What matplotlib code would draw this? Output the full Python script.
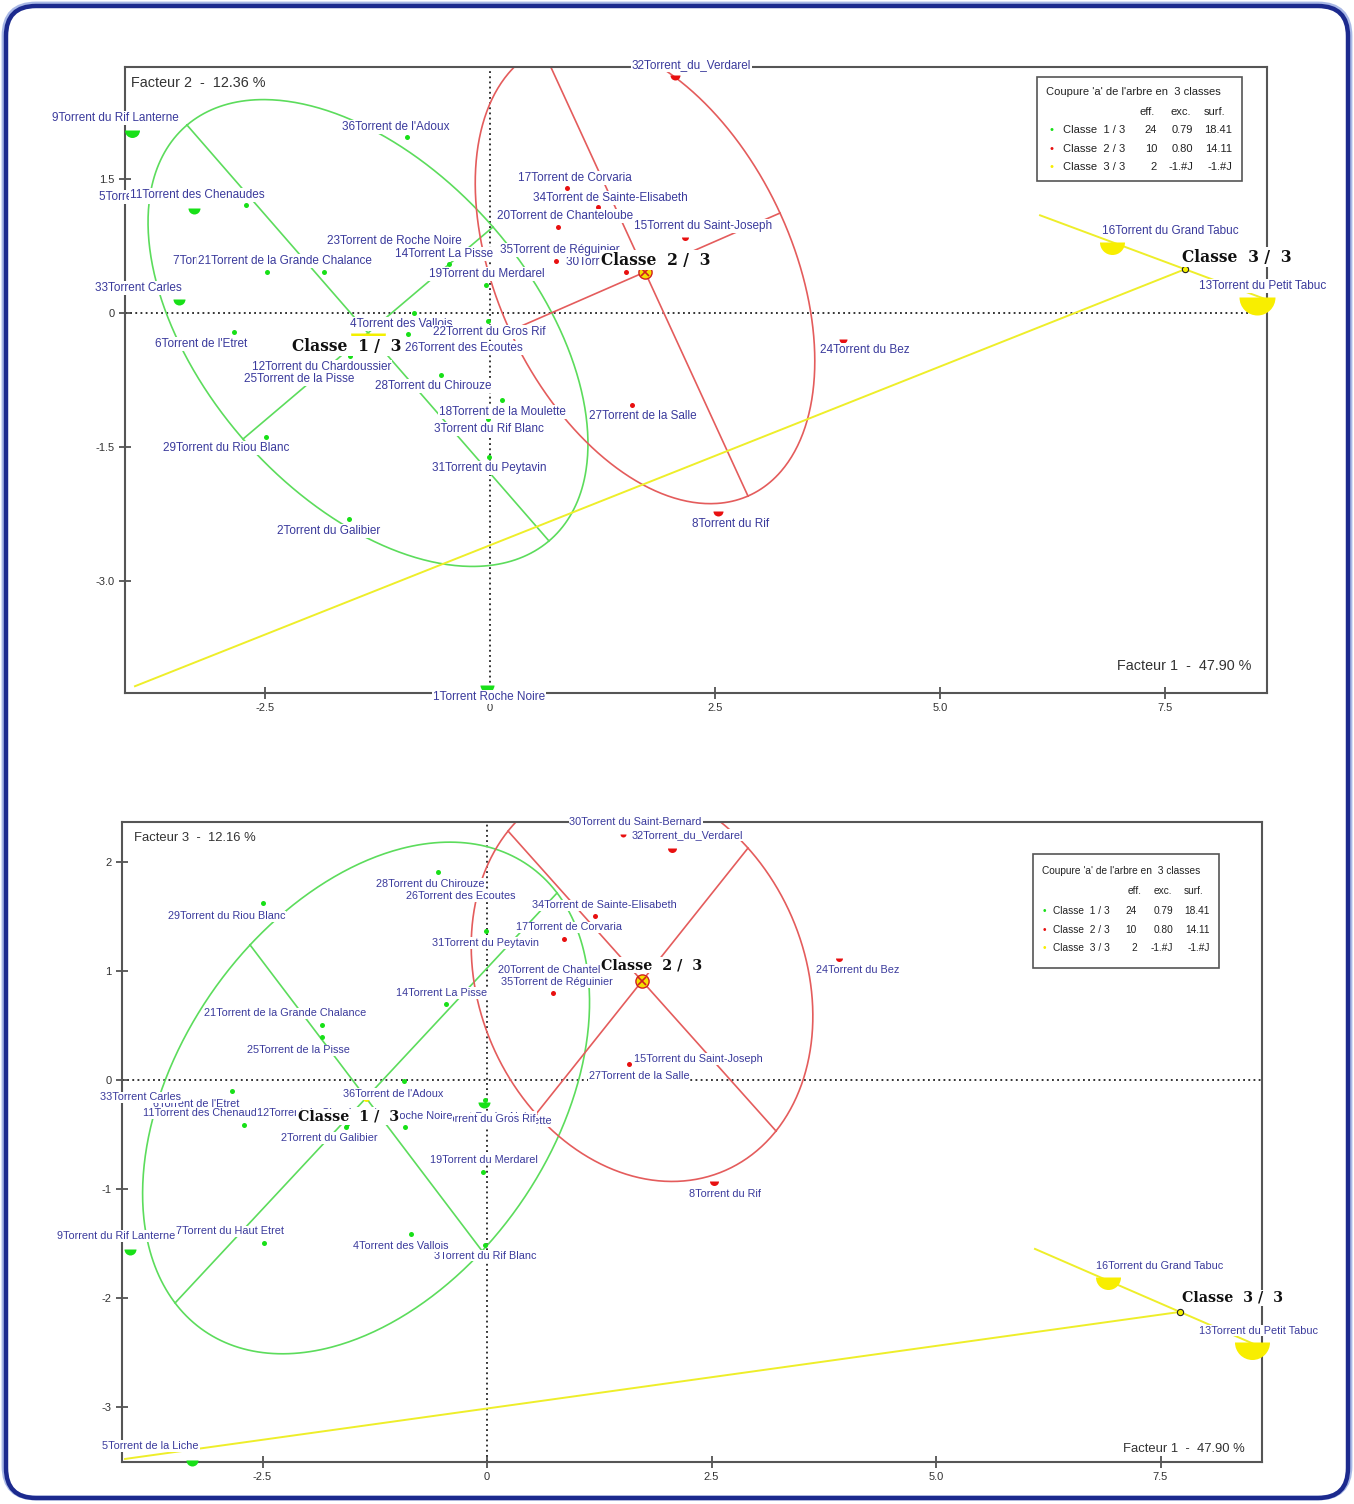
import matplotlib
matplotlib.use("Agg")
import matplotlib.pyplot as plt
import numpy as np
from matplotlib import font_manager, transforms
from matplotlib.patches import FancyBboxPatch, Rectangle

# Classification des torrents : plans factoriels F1-F2 et F1-F3 (coupure en 3 classes)

W, H = 1354, 1504

numeros = [1, 2, 3, 4, 5, 6, 7, 8, 9, 11, 12, 13, 14, 15, 16, 17, 18, 19,
           20, 21, 22, 23, 24, 25, 26, 27, 28, 29, 30, 31, 32, 33, 34, 35, 36]
noms = ["Torrent Roche Noire", "Torrent du Galibier", "Torrent du Rif Blanc",
        "Torrent des Vallois", "Torrent de la Liche", "Torrent de l'Etret",
        "Torrent du Haut Etret", "Torrent du Rif", "Torrent du Rif Lanterne",
        "Torrent des Chenaudes", "Torrent du Chardoussier", "Torrent du Petit Tabuc",
        "Torrent La Pisse", "Torrent du Saint-Joseph", "Torrent du Grand Tabuc",
        "Torrent de Corvaria", "Torrent de la Moulette", "Torrent du Merdarel",
        "Torrent de Chanteloube", "Torrent de la Grande Chalance", "Torrent du Gros Rif",
        "Torrent de Roche Noire", "Torrent du Bez", "Torrent de la Pisse",
        "Torrent des Ecoutes", "Torrent de la Salle", "Torrent du Chirouze",
        "Torrent du Riou Blanc", "Torrent du Saint-Bernard", "Torrent du Peytavin",
        "Torrent_du_Verdarel", "Torrent Carles", "Torrent de Sainte-Elisabeth",
        "Torrent de Réguinier", "Torrent de l'Adoux"]
classe = [1, 1, 1, 1, 1, 1, 1, 2, 1, 1, 1, 3, 1, 2, 3, 2, 1, 1,
          2, 1, 1, 1, 2, 1, 1, 2, 1, 1, 2, 1, 2, 1, 2, 2, 1]
f1 = [-0.03, -1.57, -0.02, -0.85, -3.29, -2.84, -2.48, 2.53, -3.98, -2.71, -1.56, 8.52,
      -0.46, 2.17, 6.91, 0.86, 0.13, -0.05, 0.76, -1.84, -0.02, -0.91, 3.92, -1.84,
      -0.91, 1.58, -0.55, -2.49, 1.51, -0.01, 2.06, -3.46, 1.20, 0.73, -0.92]
f2 = [-4.16, -2.31, -1.19, 0.00, 1.18, -0.21, 0.46, -2.22, 2.05, 1.21, -0.48, 0.18,
      0.55, 0.85, 0.80, 1.40, -0.97, 0.31, 0.96, 0.46, -0.09, 0.68, -0.29, -0.62,
      -0.24, -1.03, -0.69, -1.39, 0.46, -1.61, 2.66, 0.16, 1.19, 0.58, 1.97]
f3 = [-0.20, -0.43, -1.51, -1.41, -3.49, -0.10, -1.50, -0.93, -1.55, -0.41, -0.40, -2.40,
      0.70, 0.19, -1.81, 1.29, -0.33, -0.84, 0.96, 0.50, -0.18, -0.43, 1.12, 0.39,
      1.79, 0.15, 1.91, 1.62, 2.26, 1.37, 2.13, -0.16, 1.50, 0.80, -0.01]

# centres des classes et demi-axes des ellipses
centres_f12 = [(-1.356, -0.224), (1.722, 0.459), (7.722, 0.490)]
centres_f13 = [(-1.347, -0.165), (1.726, 0.908), (7.717, -2.128)]
axes_f12 = {1: ((-2.011, 2.328), (1.389, 1.187)), 2: ((1.144, -2.508), (1.500, 0.660))}
axes_f13 = {1: ((-1.292, 1.404), (-2.127, -1.881)), 2: ((1.492, -1.376), (1.180, 1.220))}
seg3_f12 = ((-1.611, 0.604), (-11.667, -4.668))
seg3_f13 = ((-1.615, 0.578), (-11.748, -1.349))

# tableau de la coupure
lib_classes = ["Classe  1 / 3", "Classe  2 / 3", "Classe  3 / 3"]
eff = ["24", "10", "2"]
exc = ["0.79", "0.80", "-1.#J"]
surf = ["18.41", "14.11", "-1.#J"]

# --- mise en forme ---
plt.rcParams['font.family'] = ['Liberation Sans', 'DejaVu Sans']
installees = {f.name for f in font_manager.fontManager.ttflist}
police_leg = 'Liberation Sans Narrow' if 'Liberation Sans Narrow' in installees else 'Liberation Sans'
etroite = police_leg == 'Liberation Sans Narrow'

col_pt = {1: '#18e018', 2: '#e81010', 3: '#f8ee00'}
col_ln = {1: '#5cdc5c', 2: '#e45c5c', 3: '#eeee2a'}
col_lab = '#3a3a9c'
blanc = dict(boxstyle='square,pad=0.08', fc='white', ec='none')

# taille des symboles (diametre en pixels), 5 par defaut
taille_f12 = {1: 14, 5: 12, 9: 15, 33: 12, 8: 10, 32: 10, 24: 8, 15: 7, 16: 25, 13: 36}
taille_f13 = {1: 12, 5: 12, 9: 12, 8: 9, 32: 9, 24: 7, 30: 6, 16: 25, 13: 35}

# decalage des etiquettes en pixels (x vers la droite, y vers le bas)
decal_f12 = {1: (2, 12), 2: (-20, 12), 3: (1, 10), 4: (-12, 11), 5: (-43, -11), 6: (-33, 12),
             7: (-36, -11), 8: (13, 13), 9: (-16, -12), 11: (-49, -10), 12: (-28, 11),
             13: (6, -11), 14: (-5, -10), 15: (18, -11), 16: (58, -11), 17: (7, -10),
             18: (1, 12), 19: (1, -11), 20: (7, -11), 21: (-40, -11), 22: (1, 11),
             23: (-14, -11), 24: (22, 11), 25: (-25, 11), 26: (56, 14), 27: (11, 11),
             28: (-7, 11), 29: (-40, 11), 30: (11, -10), 31: (0, 11), 32: (16, -10),
             33: (-40, -11), 34: (12, -9), 35: (4, -11), 36: (-11, -10)}
decal_f13 = {1: (0, 15), 2: (-17, 11), 3: (0, 11), 4: (-10, 12), 5: (-41, -14), 6: (-36, 13),
             7: (-34, -12), 8: (11, 13), 9: (-14, -13), 11: (-38, -12), 12: (-25, -11),
             13: (6, -11), 14: (-4, -11), 15: (16, 0), 16: (52, -11), 17: (5, -12),
             18: (-6, 5), 19: (1, -12), 20: (6, -5), 21: (-37, -12), 22: (-2, 19),
             23: (-16, -11), 24: (19, 12), 25: (-23, 13), 26: (55, 11), 27: (10, 12),
             28: (-7, 12), 29: (-37, 13), 30: (13, -12), 31: (-1, 12), 32: (15, -13),
             33: (-36, 0), 34: (10, -11), 35: (4, -11), 36: (-11, 13)}
decal_cl_f12 = {1: (-21, 13), 2: (11, -12), 3: (52, -12)}
decal_cl_f13 = {1: (-18, 19), 2: (10, -16), 3: (52, -14)}

fig = plt.figure(figsize=(W / 100, H / 100), dpi=100)
tpx = transforms.Affine2D().scale(1, -1).translate(0, H)  # pixels image -> ecran


def boite(l, t, r, b):
    return [l / W, 1 - b / H, (r - l) / W, (b - t) / H]


def plan(ax, fy, centres, axes_ell, seg3, decal, taille, decal_cl, fs, fs_cl, ms_c1):
    ax.axhline(0, color='#111111', lw=1.2, ls=(0, (1.1, 2.0)), zorder=1)
    ax.axvline(0, color='#111111', lw=1.2, ls=(0, (1.1, 2.0)), zorder=1)

    t = np.linspace(0, 2 * np.pi, 500)
    for k in (1, 2):
        cx, cy = centres[k - 1]
        (ux, uy), (vx, vy) = axes_ell[k]
        ax.plot(cx + ux * np.cos(t) + vx * np.sin(t), cy + uy * np.cos(t) + vy * np.sin(t),
                color=col_ln[k], lw=1.2, zorder=2)
        ax.plot([cx - ux, cx + ux], [cy - uy, cy + uy], color=col_ln[k], lw=1.2, zorder=2)
        ax.plot([cx - vx, cx + vx], [cy - vy, cy + vy], color=col_ln[k], lw=1.2, zorder=2)
    cx, cy = centres[2]
    (ax3, ay3), (bx3, by3) = seg3
    ax.plot([cx - ax3, cx + ax3], [cy - ay3, cy + ay3], color=col_ln[3], lw=1.4, zorder=2)
    ax.plot([cx, cx + bx3], [cy, cy + by3], color=col_ln[3], lw=1.4, zorder=2)

    for n, x, y, k in zip(numeros, f1, fy, classe):
        s = taille.get(n, 5)
        if s > 5:
            ax.plot(x, y, marker='o', fillstyle='bottom', markerfacecoloralt='none',
                    mew=0, ms=s * 0.72, color=col_pt[k], ls='none', zorder=3, clip_on=False)
        else:
            ax.plot(x, y, marker='o', mew=0, ms=s * 0.72, color=col_pt[k], ls='none', zorder=3)

    # centres de classes
    ax.plot(*centres[0], marker='o', fillstyle='bottom', markerfacecoloralt='none',
            ms=ms_c1, color='#f4f000', mew=0, zorder=3.5)
    ax.plot(*centres[1], marker='o', ms=9.5, mfc='#f4e000', mec='#d02020', mew=1, zorder=3.5)
    ax.plot(*centres[1], marker='x', ms=6, mec='#d02020', mew=1.2, zorder=3.6)
    ax.plot(*centres[2], marker='o', ms=4.5, mfc='#f4f000', mec='#222222', mew=0.8, zorder=3.5)

    for n, nom, x, y in zip(numeros, noms, f1, fy):
        dx, dy = decal.get(n, (0, -11))
        ax.annotate(f"{n}{nom}", (x, y), xytext=(dx, -dy), textcoords='offset pixels',
                    ha='center', va='center', fontsize=fs, color=col_lab, bbox=blanc,
                    zorder=5, annotation_clip=False)

    for k in (1, 2, 3):
        dx, dy = decal_cl[k]
        ax.annotate(f"Classe  {k} /  3", centres[k - 1], xytext=(dx, -dy),
                    textcoords='offset pixels', ha='center', va='center', fontsize=fs_cl,
                    family='DejaVu Serif', weight='bold', color='#111111', bbox=blanc,
                    zorder=6, annotation_clip=False)

    for sp in ax.spines.values():
        sp.set_color('#555555')
        sp.set_linewidth(1.5)
    ax.tick_params(direction='inout', length=9, width=1.2, colors='#444444',
                   labelsize=8, labelcolor='#333333', pad=3)


def legende(l, t, r, b, x_txt, y_titre, y_tete, y_lignes, x_puce, x_cl, x_col, x_tete, fs):
    fig.add_artist(Rectangle((l, t), r - l, b - t, transform=tpx, fc='white',
                             ec='#555555', lw=1.2, zorder=7))
    if etroite:
        fs = fs * 1.12
    kw = dict(transform=tpx, fontsize=fs, family=[police_leg, 'DejaVu Sans'],
              color='#222222', va='center', zorder=8)
    fig.text(x_txt, y_titre, "Coupure 'a' de l'arbre en  3 classes", **kw)
    for xx, s in zip(x_tete, ["eff.", "exc.", "surf."]):
        fig.text(xx, y_tete, s, ha='right', **kw)
    for i, k in enumerate((1, 2, 3)):
        y = y_lignes[i]
        fig.text(x_puce, y, "•", ha='center', transform=tpx, fontsize=fs,
                 color=col_pt[k], va='center', zorder=8)
        fig.text(x_cl, y, lib_classes[i], **kw)
        for xx, s in zip(x_col, [eff[i], exc[i], surf[i]]):
            fig.text(xx, y, s, ha='right', **kw)


# plan 1-2
ax1 = fig.add_axes(boite(125, 67, 1267, 693))
ax1.set_xlim(-4.056, 8.633)
ax1.set_ylim(-4.254, 2.754)
plan(ax1, f2, centres_f12, axes_f12, seg3_f12, decal_f12, taille_f12, decal_cl_f12,
     8.5, 11.2, 25)
ax1.set_xticks([-2.5, 0, 2.5, 5.0, 7.5], ["-2.5", "0", "2.5", "5.0", "7.5"])
ax1.set_yticks([1.5, 0, -1.5, -3.0], ["1.5", "0", "-1.5", "-3.0"])
ax1.text(0.005, 0.975, "Facteur 2  -  12.36 %", transform=ax1.transAxes, fontsize=10.4,
         color='#333333', va='center', ha='left')
ax1.text(0.986, 0.043, "Facteur 1  -  47.90 %", transform=ax1.transAxes, fontsize=10.4,
         color='#333333', va='center', ha='right')

# plan 1-3
ax2 = fig.add_axes(boite(122, 822, 1262, 1462))
ax2.set_xlim(-4.065, 8.63)
ax2.set_ylim(-3.505, 2.367)
plan(ax2, f3, centres_f13, axes_f13, seg3_f13, decal_f13, taille_f13, decal_cl_f13,
     7.8, 10.3, 5)
ax2.set_xticks([-2.5, 0, 2.5, 5.0, 7.5], ["-2.5", "0", "2.5", "5.0", "7.5"])
ax2.set_yticks([2, 1, 0, -1, -2, -3], ["2", "1", "0", "-1", "-2", "-3"])
ax2.text(0.0105, 0.975, "Facteur 3  -  12.16 %", transform=ax2.transAxes, fontsize=9.4,
         color='#333333', va='center', ha='left')
ax2.text(0.985, 0.020, "Facteur 1  -  47.90 %", transform=ax2.transAxes, fontsize=9.4,
         color='#333333', va='center', ha='right')

legende(1037, 77, 1242, 181, 1046, 92, 112, [130, 149, 167], 1051, 1063,
        [1157, 1193, 1232], [1155, 1191, 1225], 8.0)
legende(1033, 854, 1219, 968, 1042, 871, 891, [911, 930, 948], 1044, 1053,
        [1137, 1173, 1210], [1142, 1172, 1203], 7.3)

# cadre arrondi
fig.add_artist(FancyBboxPatch((4, 4), 1346, 1494, boxstyle='round,pad=0,rounding_size=32',
                              transform=tpx, fc='none', ec='#a9b8e6', lw=3.5, zorder=0))
fig.add_artist(FancyBboxPatch((6, 6), 1342, 1492, boxstyle='round,pad=0,rounding_size=30',
                              transform=tpx, fc='none', ec='#1c2a8e', lw=3.2, zorder=0))

fig.savefig("out.png", dpi=100)
